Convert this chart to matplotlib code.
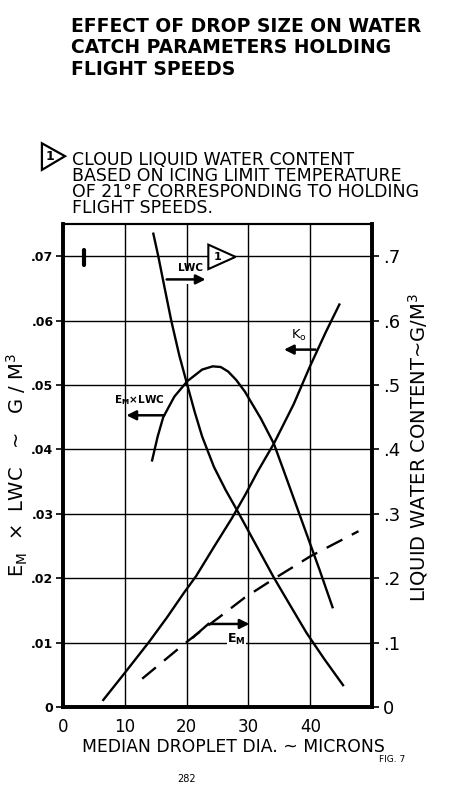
import numpy as np
import matplotlib.pyplot as plt
from matplotlib.patches import Polygon

# x = median droplet dia (microns)
ko_x = [6.5, 9.9, 13.9, 16.8, 19.6, 21.5, 24.5, 27.3, 29.5, 31.5, 34.1, 37.3, 39.9, 42.5, 44.7]
ko_y = [0.0011, 0.0052, 0.0101, 0.0139, 0.0178, 0.0203, 0.0250, 0.0293, 0.0330, 0.0366, 0.0409, 0.0470, 0.0528, 0.0582, 0.0625]

emlwc_x = [14.4, 15.3, 16.2, 18.0, 20.1, 22.5, 24.2, 25.5, 26.7, 28.0, 29.4, 32.0, 34.1, 35.7, 38.9, 41.5, 43.6]
emlwc_y = [0.0383, 0.0420, 0.0450, 0.0482, 0.0506, 0.0524, 0.0529, 0.0528, 0.0521, 0.0508, 0.0490, 0.0448, 0.0409, 0.0367, 0.0282, 0.0213, 0.0155]

# right axis (g/m3)
lwc_x = [14.6, 15.4, 16.4, 17.5, 18.8, 20.1, 21.3, 22.5, 24.4, 26.3, 28.3, 31.2, 34.1, 36.8, 39.4, 42.3, 45.3]
lwc_y = [0.735, 0.700, 0.652, 0.600, 0.546, 0.500, 0.458, 0.420, 0.373, 0.337, 0.303, 0.252, 0.201, 0.157, 0.115, 0.074, 0.034]

em_x = [12.8, 16.2, 19.6, 22.4, 25.2, 29.4, 34.1, 40.0, 44.0, 47.8]
em_y = [0.044, 0.071, 0.098, 0.119, 0.139, 0.170, 0.199, 0.234, 0.254, 0.273]

xticks = [0, 10, 20, 30, 40]
yticks_l = [0, 0.01, 0.02, 0.03, 0.04, 0.05, 0.06, 0.07]
ylabels_l = ['0', '.01', '.02', '.03', '.04', '.05', '.06', '.07']
yticks_r = [0, 0.1, 0.2, 0.3, 0.4, 0.5, 0.6, 0.7]
ylabels_r = ['0', '.1', '.2', '.3', '.4', '.5', '.6', '.7']

fig = plt.figure(figsize=(4.71, 8.05), dpi=100)
ax = fig.add_axes([0.134, 0.1217, 0.656, 0.600])
ax2 = ax.twinx()

ax.set_xlim(0, 50)
ax.set_ylim(0, 0.075)
ax2.set_ylim(0, 0.75)

# grid
for xv in xticks[1:]:
    ax.axvline(xv, color='black', lw=1.0, zorder=1)
for yv in yticks_l[1:]:
    ax.axhline(yv, color='black', lw=1.0, zorder=1)

ax.plot(ko_x, ko_y, color='black', lw=1.7, zorder=3)
ax.plot(emlwc_x, emlwc_y, color='black', lw=1.7, zorder=3)
ax2.plot(lwc_x, lwc_y, color='black', lw=1.7, zorder=3)
ax2.plot(em_x, em_y, color='black', lw=1.7, dashes=(7.5, 4.5), zorder=3)

for s in ['left', 'bottom', 'right']:
    ax.spines[s].set_linewidth(2.6)
    ax2.spines[s].set_linewidth(2.6)
ax.spines['top'].set_linewidth(1.5)
ax2.spines['top'].set_linewidth(1.5)

ax.set_xticks(xticks)
ax.set_xticklabels([str(v) for v in xticks], fontsize=12)
ax.tick_params(axis='x', length=0, pad=8)
ax.set_yticks(yticks_l)
ax.set_yticklabels(ylabels_l, fontsize=9, fontweight='bold')
ax.tick_params(axis='y', length=5, width=1.2, pad=2)
ax2.set_yticks(yticks_r)
ax2.set_yticklabels(ylabels_r, fontsize=13)
ax2.tick_params(axis='y', length=5, width=1.2, pad=3)

ax.set_xlabel('MEDIAN DROPLET DIA. ~ MICRONS', fontsize=12.4, labelpad=1, x=0.55)
ax.set_ylabel(r'E$_\mathregular{M}$  ×  LWC   ~   G / M$^\mathregular{3}$', fontsize=14, labelpad=1)
ax2.set_ylabel(r'LIQUID WATER CONTENT~G/M$^\mathregular{3}$', fontsize=14, labelpad=4, y=0.538)

# labels and arrows
arrow = dict(arrowstyle='-|>', color='black', lw=1.8, mutation_scale=14)
ax.text(17.2, 0.0663, ' ' * 14, fontsize=8, zorder=4,
        bbox=dict(fc='white', ec='none', pad=1.5))
ax.annotate('', xy=(23.5, 0.0664), xytext=(16.3, 0.0664), arrowprops=arrow, zorder=5)
ax.text(18.6, 0.0677, 'LWC', fontsize=7.5, fontweight='bold', zorder=5)
tri = Polygon([[23.5, 0.0718], [23.5, 0.0680], [27.9, 0.0699]], closed=True,
              fc='white', ec='black', lw=1.5, zorder=5)
ax.add_patch(tri)
ax.text(24.3, 0.0699, '1', fontsize=8, fontweight='bold', va='center', zorder=6)

ax.text(36.9, 0.0572, r'K$_\mathregular{o}$', fontsize=9.5, zorder=5)
ax.annotate('', xy=(35.3, 0.0555), xytext=(41.3, 0.0555), arrowprops=arrow, zorder=5)

ax.text(8.2, 0.0472, r'E$_\mathregular{M}$×LWC', fontsize=7.5, fontweight='bold', zorder=5)
ax.annotate('', xy=(9.8, 0.0453), xytext=(16.8, 0.0453), arrowprops=arrow, zorder=5)

ax.plot([21.0, 23.5], [0.0108, 0.0129], color='black', lw=1.7, zorder=4)
ax.annotate('', xy=(30.6, 0.0129), xytext=(23.4, 0.0129), arrowprops=arrow, zorder=5)
ax.text(26.6, 0.0100, r'E$_\mathregular{M}$', fontsize=9, fontweight='bold', zorder=5,
        bbox=dict(fc='white', ec='none', pad=0.3))

# small mark near .07
ax.plot([3.3, 3.3], [0.0686, 0.0710], color='black', lw=3, solid_capstyle='round', zorder=4)

# title and note
fig.text(0.150, 0.979, 'EFFECT OF DROP SIZE ON WATER\nCATCH PARAMETERS HOLDING\nFLIGHT SPEEDS',
         fontsize=13.5, fontweight='bold', va='top', ha='left', linespacing=1.17)

note_tri = Polygon([[0.089, 0.822], [0.089, 0.789], [0.138, 0.806]], closed=True,
                   fc='none', ec='black', lw=1.6, transform=fig.transFigure)
fig.patches.append(note_tri)
fig.text(0.097, 0.806, '1', fontsize=9, fontweight='bold', va='center', ha='left')
fig.text(0.153, 0.813,
         'CLOUD LIQUID WATER CONTENT\nBASED ON ICING LIMIT TEMPERATURE\n'
         'OF 21°F CORRESPONDING TO HOLDING\nFLIGHT SPEEDS.',
         fontsize=12.5, va='top', ha='left', linespacing=0.86)

fig.text(0.805, 0.053, 'FIG. 7', fontsize=6.5, ha='left')
fig.text(0.377, 0.029, '282', fontsize=7, ha='left')

fig.savefig('out.png', dpi=100)
